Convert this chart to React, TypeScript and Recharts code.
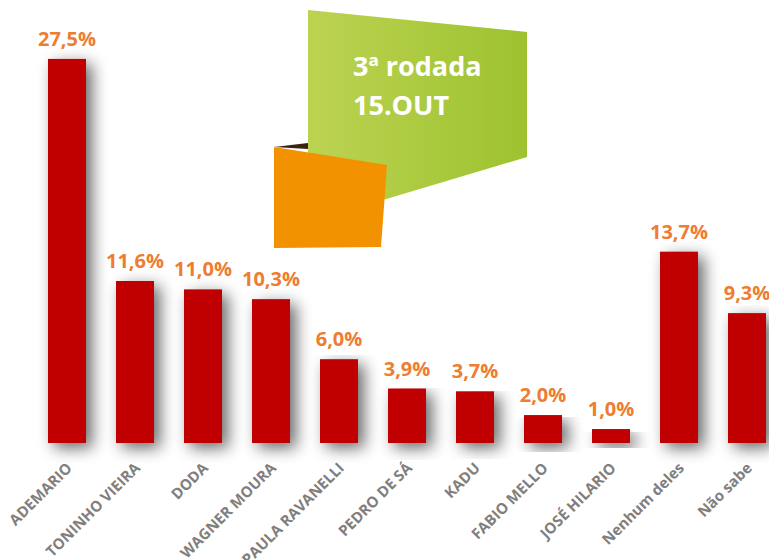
import React from 'react';
import { Bar, BarChart, LabelList, XAxis, YAxis } from 'recharts';

const candidates = [
  'ADEMARIO',
  'TONINHO VIEIRA',
  'DODA',
  'WAGNER MOURA',
  'PAULA RAVANELLI',
  'PEDRO DE SÁ',
  'KADU',
  'FABIO MELLO',
  'JOSÉ HILARIO',
  'Nenhum deles',
  'Não sabe',
];
const percents = [27.5, 11.6, 11.0, 10.3, 6.0, 3.9, 3.7, 2.0, 1.0, 13.7, 9.3];
const roundTitle = ['3ª rodada', '15.OUT'];

const data = candidates.map((name, i) => ({ name, valor: percents[i] }));

const fmt = (v: number) => v.toFixed(1).replace('.', ',') + '%';

const NameTick = (props: any) => {
  const { x, y, payload } = props;
  const ax = x + 6;
  const ay = y + 26;
  return (
    <text
      x={ax}
      y={ay}
      transform={`rotate(-45 ${ax} ${ay})`}
      textAnchor="end"
      fill="#7f7f7f"
      fontSize={15}
      fontWeight="bold"
      fontFamily="'Open Sans', sans-serif"
    >
      {payload.value}
    </text>
  );
};

const ShadowBar = (props: any) => {
  const { x, y, width, height } = props;
  return <rect x={x} y={y} width={width} height={height} fill="#c00000" filter="url(#barShadow)" />;
};

const App = () => (
  <div
    style={{
      position: 'absolute',
      left: 0,
      top: 0,
      width: 769,
      height: 560,
      overflow: 'hidden',
      background: '#fff',
    }}
  >
    <svg width={0} height={0} style={{ position: 'absolute' }}>
      <defs>
        <filter id="barShadow" x="-60%" y="-10%" width="220%" height="140%">
          <feGaussianBlur in="SourceAlpha" stdDeviation="8" />
          <feOffset dx="6" dy="5" result="blur" />
          <feComponentTransfer>
            <feFuncA type="linear" slope="0.6" />
          </feComponentTransfer>
          <feMerge>
            <feMergeNode />
            <feMergeNode in="SourceGraphic" />
          </feMerge>
        </filter>
        <linearGradient id="greenFill" x1="0" y1="0" x2="1" y2="0">
          <stop offset="0%" stopColor="#bcd352" />
          <stop offset="100%" stopColor="#9dc22f" />
        </linearGradient>
      </defs>
    </svg>

    <BarChart
      width={800}
      height={560}
      data={data}
      margin={{ top: 24, right: 19, left: 33, bottom: 0 }}
    >
      <XAxis
        dataKey="name"
        interval={0}
        height={117}
        axisLine={false}
        tickLine={false}
        tickSize={0}
        tickMargin={0}
        tick={<NameTick />}
      />
      <YAxis hide domain={[0, 30]} />
      <Bar dataKey="valor" barSize={38} shape={<ShadowBar />} isAnimationActive={false}>
        <LabelList
          dataKey="valor"
          position="top"
          offset={13}
          formatter={(v: any) => fmt(Number(v))}
          fill="#ee7d31"
          fontSize={20}
          fontWeight="bold"
          fontFamily="'Open Sans', sans-serif"
        />
      </Bar>
    </BarChart>

    <svg
      width={769}
      height={560}
      style={{ position: 'absolute', left: 0, top: 0, pointerEvents: 'none' }}
    >
      <polygon points="308,10 527,32 527,157 383,200 308,220" fill="url(#greenFill)" />
      <polygon points="274,147 308,143 308,149" fill="#3b2314" />
      <polygon points="274,147 387,165 381,247 274,248" fill="#f39200" />
      <text
        x={353}
        y={76}
        fill="#fff"
        fontSize={27}
        fontWeight="bold"
        fontFamily="'Open Sans', sans-serif"
      >
        {roundTitle[0]}
      </text>
      <text
        x={353}
        y={115}
        fill="#fff"
        fontSize={27}
        fontWeight="bold"
        fontFamily="'Open Sans', sans-serif"
      >
        {roundTitle[1]}
      </text>
    </svg>
  </div>
);

export default App;
